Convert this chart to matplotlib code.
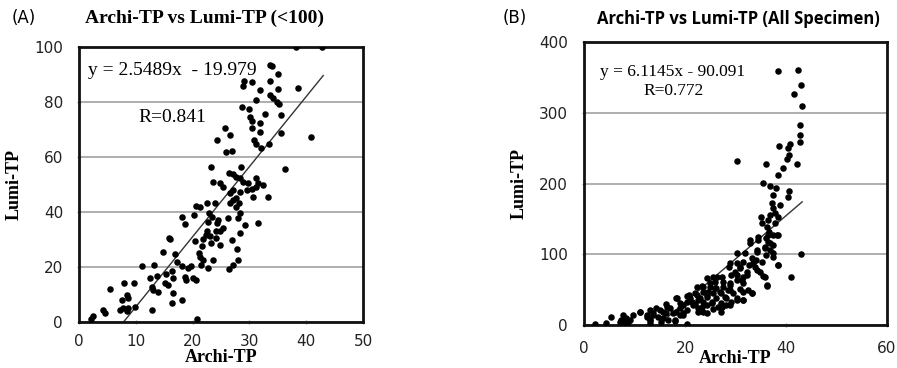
import matplotlib
matplotlib.use('Agg')
import matplotlib.pyplot as plt
import numpy as np

# Panel A: Archi-TP vs Lumi-TP (<100)
archi_a = [38.2, 42.8, 33.6, 34.0, 35.0, 29.1, 28.9, 30.5, 31.8, 33.6, 35.1, 38.5,
           28.7, 30.0, 31.2, 33.7, 34.2, 34.8, 35.2, 32.7, 35.5, 30.1, 30.5, 31.8,
           30.5, 31.8, 35.5, 40.9, 25.7, 26.6, 24.3, 30.8, 31.2, 33.5, 32.1, 25.9,
           26.9, 36.2, 28.6, 23.2, 23.6, 24.8, 26.4, 27.1, 27.6, 28.3, 28.9, 29.8,
           31.2, 31.5, 32.4, 31.2, 25.3, 27.1, 28.3, 29.5, 30.4, 30.7, 33.3, 26.6,
           27.1, 27.7, 28.2, 26.6, 27.6, 22.5, 23.9, 20.6, 21.3, 20.2, 18.1, 18.6,
           22.9, 23.5, 24.5, 26.2, 28.3, 28.0, 22.7, 24.3, 29.2, 31.5, 22.5, 24.1,
           24.8, 25.4, 28.3, 22.3, 23.0, 21.9, 24.2, 15.9, 16.0, 23.3, 24.8, 27.0,
           20.4, 21.6, 14.8, 16.9, 21.2, 21.3, 21.9, 23.6, 27.8, 28.0, 27.1, 26.4,
           21.4, 22.7, 17.2, 18.1, 19.2, 19.8, 11.1, 13.2, 15.4, 16.3, 18.6, 18.9,
           20.0, 20.6, 12.5, 13.7, 16.6, 15.2, 15.7, 9.6, 7.9, 5.4, 12.8, 13.1,
           13.9, 16.5, 8.4, 8.7, 7.5, 18.1, 16.3, 7.8, 8.7, 7.2, 8.4, 12.9,
           4.3, 4.6, 2.5, 2.1, 20.7, 9.8]
lumi_a = [100, 100, 93.3, 93.2, 90.3, 87.5, 85.7, 87.4, 84.5, 87.5, 84.9, 85.2,
          78.2, 77.3, 80.9, 82.5, 81.3, 80.0, 79.4, 75.6, 75.2, 74.6, 73.0, 72.4,
          70.4, 69.2, 68.9, 67.1, 70.4, 68.0, 66.1, 66.1, 64.9, 64.9, 63.1, 61.9,
          62.2, 55.6, 56.5, 56.2, 51.0, 50.4, 54.3, 53.8, 52.8, 52.2, 51.0, 50.7,
          52.2, 50.7, 49.8, 49.2, 49.2, 48.0, 47.4, 48.0, 48.2, 45.6, 45.6, 46.8,
          44.4, 45.0, 43.2, 43.2, 42.0, 43.2, 43.4, 42.2, 42.0, 38.9, 38.1, 35.7,
          39.5, 38.3, 37.1, 37.7, 39.5, 37.7, 36.5, 35.9, 35.3, 35.9, 33.1, 33.1,
          33.1, 34.1, 32.3, 31.7, 31.1, 30.1, 30.5, 30.5, 30.1, 28.9, 28.1, 29.9,
          29.3, 27.7, 25.3, 24.8, 25.0, 23.8, 22.6, 22.6, 26.5, 22.6, 20.8, 19.2,
          20.8, 19.6, 22.0, 20.2, 19.6, 20.2, 20.2, 20.8, 17.5, 18.7, 16.3, 15.4,
          16.0, 15.4, 16.0, 16.6, 16.0, 14.1, 13.5, 14.1, 14.1, 12.0, 12.9, 11.7,
          10.9, 10.5, 9.9, 8.7, 8.1, 8.1, 6.9, 5.1, 5.1, 4.5, 3.9, 4.5,
          4.5, 3.3, 2.1, 1.1, 1.2, 5.4]

# Panel B: Archi-TP vs Lumi-TP (all specimen)
archi_b = [38.4, 42.3, 43.0, 41.5, 43.1, 42.7, 42.8, 42.7, 40.7, 40.3, 38.6, 40.5,
           40.1, 30.2, 36.0, 42.1, 39.4, 38.5, 35.4, 36.9, 38.0, 40.5, 40.3, 37.4,
           37.2, 37.4, 38.8, 37.9, 36.8, 38.5, 35.0, 36.5, 37.9, 36.2, 35.2, 36.7,
           37.5, 38.5, 36.0, 34.5, 32.9, 36.5, 37.4, 35.8, 36.9, 31.9, 34.2, 36.0,
           37.5, 42.9, 33.2, 34.1, 35.2, 31.5, 30.2, 32.6, 38.5, 33.9, 30.8, 28.8,
           29.9, 32.2, 34.9, 29.1, 31.5, 35.5, 40.9, 27.4, 25.6, 24.3, 26.0, 30.2,
           31.5, 36.2, 28.9, 27.6, 23.3, 24.9, 26.2, 28.9, 30.9, 32.5, 23.6, 25.6,
           27.2, 29.6, 33.2, 22.3, 24.3, 20.3, 21.0, 18.3, 26.2, 28.2, 31.5, 22.6,
           23.6, 25.3, 27.2, 22.0, 24.3, 19.0, 16.3, 22.6, 25.6, 27.2, 23.6, 19.6,
           20.4, 17.1, 14.3, 13.0, 15.7, 11.0, 18.3, 12.4, 13.7, 14.7, 16.3, 19.0,
           19.6, 9.7, 7.7, 5.4, 8.4, 7.4, 9.1, 13.0, 16.7, 18.0, 7.1, 8.1,
           8.7, 4.4, 2.2, 20.4, 13.0, 15.3, 21.3, 23.3, 26.6, 28.2, 29.2, 30.2,
           24.6, 22.3,
           34.5, 36.5, 38.2, 36.8, 35.8, 37.5, 34.2, 32.9, 38.5, 30.2, 28.9, 30.9,
           33.5, 34.2, 32.2, 30.2, 31.2, 35.8, 36.2, 26.3, 27.6, 28.9, 24.9, 23.6,
           25.9, 28.6, 26.9, 31.5, 33.2, 22.0, 20.7, 24.3, 23.0, 27.9, 30.2, 31.5,
           20.3, 21.6, 25.3, 27.3, 28.9, 18.4, 19.0, 16.4, 15.0, 17.7, 19.7, 22.6,
           24.3, 13.7, 12.4, 15.7, 18.0, 13.1, 11.1]
lumi_b = [358.5, 360.8, 339.2, 326.9, 309.9, 283.0, 268.9, 258.0, 256.0, 250.0, 252.4, 240.6,
          234.4, 231.6, 227.8, 227.4, 221.7, 212.3, 201.4, 196.7, 193.4, 190.0, 180.7, 184.0,
          172.0, 165.0, 169.8, 158.0, 155.7, 153.3, 152.4, 148.6, 143.9, 139.2, 143.9, 132.1,
          127.4, 127.4, 122.6, 120.3, 120.3, 117.9, 113.2, 108.5, 106.1, 101.4, 103.8, 99.1,
          96.7, 100.0, 94.3, 92.0, 89.6, 89.6, 87.3, 84.9, 84.9, 82.5, 80.2, 82.5,
          75.5, 75.5, 75.5, 70.8, 68.4, 69.3, 67.5, 68.4, 68.4, 66.0, 61.3, 63.7,
          59.9, 55.2, 56.6, 54.2, 55.2, 53.3, 51.9, 49.5, 50.5, 49.5, 47.2, 44.8,
          44.8, 44.8, 44.8, 42.5, 40.1, 41.0, 37.7, 37.7, 37.7, 37.7, 35.4, 35.4,
          33.0, 33.0, 30.7, 29.7, 28.3, 30.7, 29.7, 23.6, 22.2, 18.9, 18.9, 28.3,
          21.2, 23.6, 23.6, 21.2, 18.9, 18.9, 18.9, 14.2, 14.2, 11.8, 16.5, 14.2,
          16.5, 14.2, 14.2, 11.8, 9.4, 7.1, 7.1, 7.1, 7.1, 6.1, 4.7, 3.3,
          3.8, 3.3, 1.4, 1.4, 3.3, 4.7, 33.0, 25.9, 25.9, 28.3, 33.0, 35.4,
          47.2, 54.2,
          124.8, 127.2, 127.0, 115.5, 110.7, 101.3, 106.0, 115.5, 84.8, 101.3, 87.2, 82.4,
          87.2, 77.7, 70.7, 70.7, 63.6, 68.3, 56.5, 68.3, 61.2, 58.9, 58.9, 54.1,
          51.9, 49.5, 47.1, 47.1, 44.8, 44.8, 42.4, 42.4, 37.7, 40.0, 37.7, 35.3,
          32.9, 28.3, 30.7, 25.9, 28.3, 37.7, 23.6, 25.9, 21.2, 16.5, 14.1, 18.8,
          16.5, 16.5, 11.7, 9.4, 7.1, 7.1, 18.8]

fit_a = (2.5489, -19.979)
fit_b = (6.1145, -90.091)

serif = 'Liberation Serif'
sans = 'DejaVu Sans'

fig = plt.figure(figsize=(8.97, 3.68), dpi=100)


def panel(rect, x, y, fit, x0, x1, xlim, ylim, xticks, yticks):
    ax = fig.add_axes(rect)
    ax.set_xlim(*xlim)
    ax.set_ylim(*ylim)
    ax.set_xticks(xticks)
    ax.set_yticks(yticks)
    ax.yaxis.grid(True, color='#a8a8a8', linewidth=1.3)
    ax.set_axisbelow(True)
    for s in ax.spines.values():
        s.set_linewidth(2)
        s.set_color('#111111')
    ax.tick_params(labelsize=11, labelcolor='#222222', color='#999999',
                   length=3, width=1, direction='inout')
    ax.tick_params(axis='x', pad=7)
    ax.tick_params(axis='y', pad=10)
    ax.scatter(x, y, s=22, color='black', zorder=3, linewidths=0)
    xs = np.array([x0, x1])
    ax.plot(xs, fit[0] * xs + fit[1], color='#333333', linewidth=1, zorder=2)
    ax.set_ylabel('Lumi-TP', fontfamily=serif, fontweight='bold', fontsize=13, labelpad=8)
    return ax


ax1 = panel([79 / 897, 46 / 368, 284 / 897, 275 / 368], archi_a, lumi_a, fit_a,
            7.84, 43.0, (0, 50), (0, 100), range(0, 51, 10), range(0, 101, 20))
ax1.set_xlabel('Archi-TP', fontfamily=serif, fontweight='bold', fontsize=13, labelpad=0)
ax1.text(1.6, 91.6, 'y = 2.5489x  - 19.979', fontfamily=serif, fontsize=14, va='center')
ax1.text(10.4, 74.5, 'R=0.841', fontfamily=serif, fontsize=14, va='center')

ax2 = panel([584 / 897, 43 / 368, 303 / 897, 283 / 368], archi_b, lumi_b, fit_b,
            14.73, 43.2, (0, 60), (0, 400), range(0, 61, 20), range(0, 401, 100))
ax2.tick_params(axis='x', pad=10)
ax2.set_xlabel('Archi-TP', fontfamily=serif, fontweight='bold', fontsize=13, labelpad=-4)
ax2.text(3.2, 357.6, 'y = 6.1145x - 90.091', fontfamily=serif, fontsize=12.5, va='center')
ax2.text(11.7, 330.7, 'R=0.772', fontfamily=serif, fontsize=12.5, va='center')

fig.text(12 / 897, 1 - 18 / 368, '(A)', fontfamily=sans, fontsize=12, va='center')
fig.text(204 / 897, 1 - 18 / 368, 'Archi-TP vs Lumi-TP (<100)', fontfamily=serif,
         fontweight='bold', fontsize=14, ha='center', va='center')
fig.text(503 / 897, 1 - 18 / 368, '(B)', fontfamily=sans, fontsize=12, va='center')
fig.text(738 / 897, 1 - 19 / 368, 'Archi-TP vs Lumi-TP (All Specimen)', fontfamily='Open Sans',
         fontweight='bold', fontsize=12, ha='center', va='center')

fig.savefig('out.png', dpi=100)
